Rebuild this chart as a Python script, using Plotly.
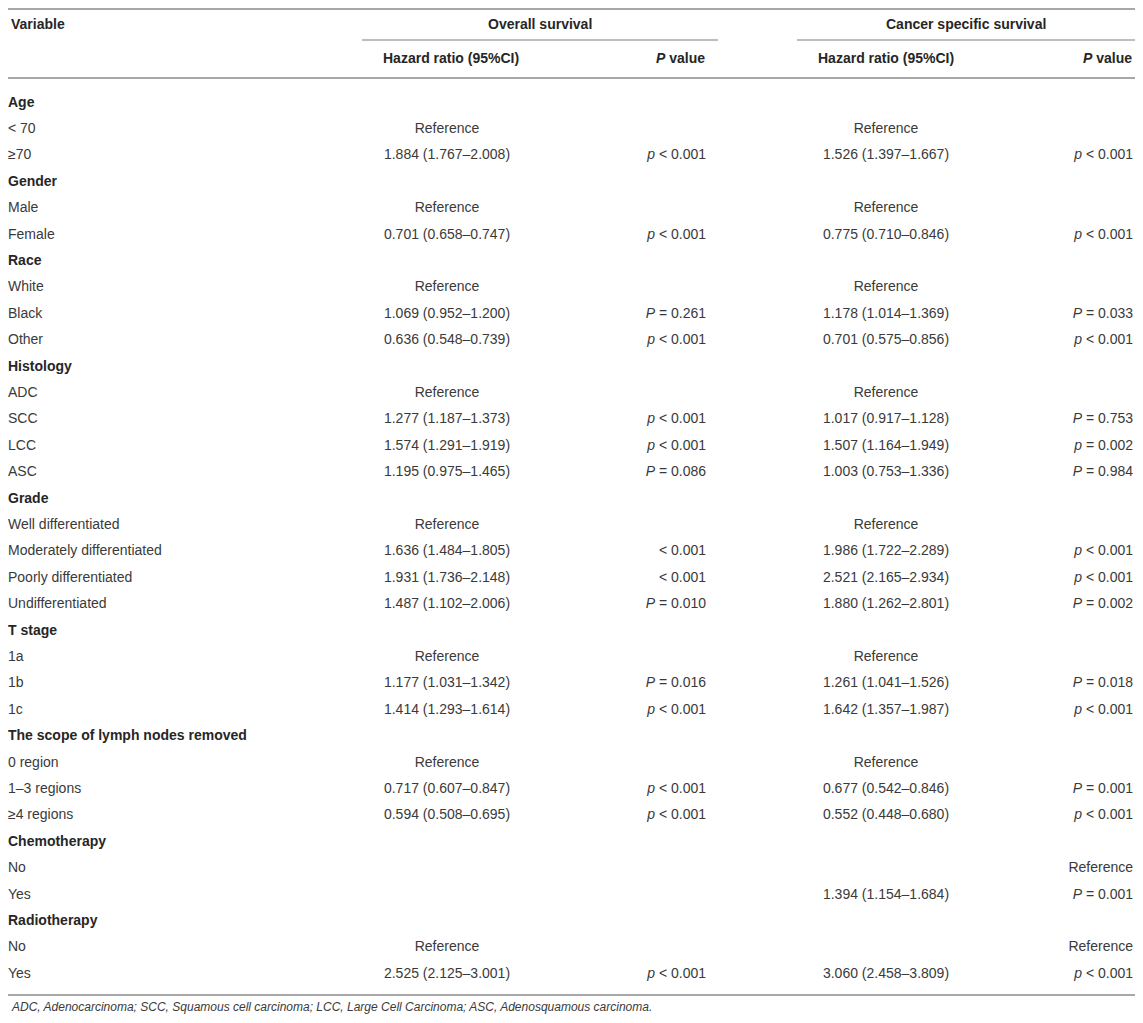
"""
Cox regression table: overall survival vs cancer specific survival,
drawn as a Plotly figure (text traces on a pixel-sized canvas).
"""

import plotly.graph_objects as go

# -------------------------------------------------
# Table data
# -------------------------------------------------

variables = [
    "Age", "< 70", "≥70",
    "Gender", "Male", "Female",
    "Race", "White", "Black", "Other",
    "Histology", "ADC", "SCC", "LCC", "ASC",
    "Grade", "Well differentiated", "Moderately differentiated",
    "Poorly differentiated", "Undifferentiated",
    "T stage", "1a", "1b", "1c",
    "The scope of lymph nodes removed", "0 region", "1–3 regions", "≥4 regions",
    "Chemotherapy", "No", "Yes",
    "Radiotherapy", "No", "Yes",
]

is_group = [
    1, 0, 0,
    1, 0, 0,
    1, 0, 0, 0,
    1, 0, 0, 0, 0,
    1, 0, 0, 0, 0,
    1, 0, 0, 0,
    1, 0, 0, 0,
    1, 0, 0,
    1, 0, 0,
]

os_hr = [
    "", "Reference", "1.884 (1.767–2.008)",
    "", "Reference", "0.701 (0.658–0.747)",
    "", "Reference", "1.069 (0.952–1.200)", "0.636 (0.548–0.739)",
    "", "Reference", "1.277 (1.187–1.373)", "1.574 (1.291–1.919)", "1.195 (0.975–1.465)",
    "", "Reference", "1.636 (1.484–1.805)", "1.931 (1.736–2.148)", "1.487 (1.102–2.006)",
    "", "Reference", "1.177 (1.031–1.342)", "1.414 (1.293–1.614)",
    "", "Reference", "0.717 (0.607–0.847)", "0.594 (0.508–0.695)",
    "", "", "",
    "", "Reference", "2.525 (2.125–3.001)",
]

os_p = [
    "", "", "p < 0.001",
    "", "", "p < 0.001",
    "", "", "P = 0.261", "p < 0.001",
    "", "", "p < 0.001", "p < 0.001", "P = 0.086",
    "", "", "< 0.001", "< 0.001", "P = 0.010",
    "", "", "P = 0.016", "p < 0.001",
    "", "", "p < 0.001", "p < 0.001",
    "", "", "",
    "", "", "p < 0.001",
]

css_hr = [
    "", "Reference", "1.526 (1.397–1.667)",
    "", "Reference", "0.775 (0.710–0.846)",
    "", "Reference", "1.178 (1.014–1.369)", "0.701 (0.575–0.856)",
    "", "Reference", "1.017 (0.917–1.128)", "1.507 (1.164–1.949)", "1.003 (0.753–1.336)",
    "", "Reference", "1.986 (1.722–2.289)", "2.521 (2.165–2.934)", "1.880 (1.262–2.801)",
    "", "Reference", "1.261 (1.041–1.526)", "1.642 (1.357–1.987)",
    "", "Reference", "0.677 (0.542–0.846)", "0.552 (0.448–0.680)",
    "", "", "1.394 (1.154–1.684)",
    "", "", "3.060 (2.458–3.809)",
]

css_p = [
    "", "", "p < 0.001",
    "", "", "p < 0.001",
    "", "", "P = 0.033", "p < 0.001",
    "", "", "P = 0.753", "p = 0.002", "P = 0.984",
    "", "", "p < 0.001", "p < 0.001", "P = 0.002",
    "", "", "P = 0.018", "p < 0.001",
    "", "", "P = 0.001", "p < 0.001",
    "", "Reference", "P = 0.001",
    "", "Reference", "p < 0.001",
]

footnote = ("ADC, Adenocarcinoma; SCC, Squamous cell carcinoma; "
            "LCC, Large Cell Carcinoma; ASC, Adenosquamous carcinoma.")

# -------------------------------------------------
# Layout constants (screen pixels; the page body keeps an 8px margin,
# so the figure covers 8..1135 x 8..1015 of the window)
# -------------------------------------------------

W, H = 1143, 1023
PAGE_MARGIN = 8
X0, X1 = PAGE_MARGIN, W - PAGE_MARGIN
Y0, Y1 = PAGE_MARGIN, H - PAGE_MARGIN

FIRST_ROW_Y = 103
ROW_STEP = 26.4

X_VAR = 8
X_OS_HR = 447
X_OS_P = 706
X_CSS_HR = 886
X_CSS_P = 1133

FONT = "Liberation Sans, Arial, sans-serif"
TEXT_COLOR = "#3a3a3a"
HEAD_COLOR = "#262626"
RULE_COLOR = "#a8a8a8"


def italic_p(s):
    # the leading p / P of a p-value is set in italics
    if s[:1] in ("p", "P") and s != "Reference":
        return "<i>" + s[0] + "</i>" + s[1:]
    return s


row_y = [FIRST_ROW_Y + i * ROW_STEP for i in range(len(variables))]
var_text = ["<b>%s</b>" % v if g else v for v, g in zip(variables, is_group)]
var_color = [HEAD_COLOR if g else TEXT_COLOR for g in is_group]

fig = go.Figure()


def add_col(x, texts, pos, color=TEXT_COLOR):
    fig.add_trace(go.Scatter(
        x=[x] * len(texts),
        y=row_y,
        mode="text",
        text=texts,
        textposition=pos,
        textfont=dict(family=FONT, size=14, color=color),
        hoverinfo="skip",
        showlegend=False,
        cliponaxis=False,
    ))


add_col(X_VAR, var_text, "middle right", var_color)
add_col(X_OS_HR, os_hr, "middle center")
add_col(X_OS_P, [italic_p(s) for s in os_p], "middle left")
add_col(X_CSS_HR, css_hr, "middle center")
add_col(X_CSS_P, [italic_p(s) for s in css_p], "middle left")

# -------------------------------------------------
# Header
# -------------------------------------------------

header = [
    (X_VAR + 2, 24, "Variable", "left"),
    (540, 24, "Overall survival", "center"),
    (966, 24, "Cancer specific survival", "center"),
    (X_OS_HR + 4, 58, "Hazard ratio (95%CI)", "center"),
    (X_OS_P, 58, "<i>P</i> value", "right"),
    (X_CSS_HR, 58, "Hazard ratio (95%CI)", "center"),
    (X_CSS_P, 58, "<i>P</i> value", "right"),
]
for x, y, t, anchor in header:
    fig.add_annotation(
        x=x, y=y, text="<b>%s</b>" % t, showarrow=False,
        xanchor=anchor, yanchor="middle", borderpad=0,
        font=dict(family=FONT, size=14, color=HEAD_COLOR),
    )

fig.add_annotation(
    x=X_VAR + 2, y=1007, text="<i>%s</i>" % footnote, showarrow=False,
    xanchor="left", yanchor="middle", borderpad=0,
    font=dict(family=FONT, size=12, color=TEXT_COLOR),
)

# -------------------------------------------------
# Rules
# -------------------------------------------------

for y in (Y0 + 1, 78, 995):
    fig.add_shape(type="line", x0=X0, x1=X1, y0=y, y1=y,
                  line=dict(color=RULE_COLOR, width=2))
for x0, x1 in ((362, 718), (797, X1)):
    fig.add_shape(type="line", x0=x0, x1=x1, y0=40, y1=40,
                  line=dict(color=RULE_COLOR, width=1.5))

fig.update_layout(
    width=X1 - X0,
    height=Y1 - Y0,
    margin=dict(l=0, r=0, t=0, b=0),
    paper_bgcolor="white",
    plot_bgcolor="white",
    xaxis=dict(range=[X0, X1], visible=False, fixedrange=True),
    yaxis=dict(range=[Y1, Y0], visible=False, fixedrange=True),
)

fig.write_html("out.html")
